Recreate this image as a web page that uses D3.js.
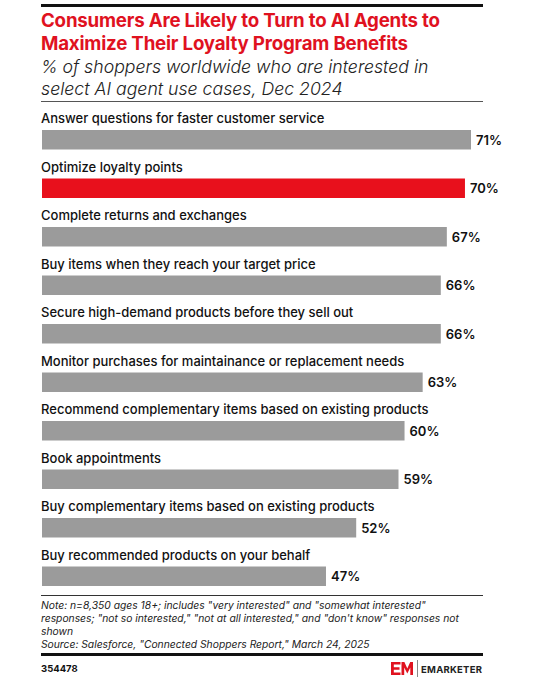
<!DOCTYPE html>
<html><head><meta charset="utf-8">
<script src="https://cdn.jsdelivr.net/npm/d3@7/dist/d3.min.js"></script>
<style>body{margin:0;background:#fff}svg{display:block}</style>
</head><body>
<svg id="c" width="544" height="680"></svg>
<script>
const categories = [
  "Answer questions for faster customer service",
  "Optimize loyalty points",
  "Complete returns and exchanges",
  "Buy items when they reach your target price",
  "Secure high-demand products before they sell out",
  "Monitor purchases for maintainance or replacement needs",
  "Recommend complementary items based on existing products",
  "Book appointments",
  "Buy complementary items based on existing products",
  "Buy recommended products on your behalf"
];
const values = [71, 70, 67, 66, 66, 63, 60, 59, 52, 47];
const highlight = ["Optimize loyalty points"];
const titleLines = ["Consumers Are Likely to Turn to AI Agents to", "Maximize Their Loyalty Program Benefits"];
const subtitleLines = ["% of shoppers worldwide who are interested in", "select AI agent use cases, Dec 2024"];
const noteLines = [
  "Note: n=8,350 ages 18+; includes \"very interested\" and \"somewhat interested\"",
  "responses; \"not so interested,\" \"not at all interested,\" and \"don't know\" responses not",
  "shown",
  "Source: Salesforce, \"Connected Shoppers Report,\" March 24, 2025"
];
const chartId = "354478";

const svg = d3.select("#c");
const F = "Inter, 'Noto Sans', sans-serif";
const L = 41, R = 483;

svg.append("rect").attr("x", L).attr("y", 4).attr("width", R - L).attr("height", 3).attr("fill", "#111");
svg.selectAll("text.t").data(titleLines).join("text")
  .attr("x", L).attr("y", (d, i) => 27 + i * 23)
  .attr("font-family", F).attr("font-weight", 700).attr("font-size", 18.7)
  .attr("fill", "#e0121f").attr("letter-spacing", -0.2).text(d => d);
svg.selectAll("text.s").data(subtitleLines).join("text")
  .attr("x", L).attr("y", (d, i) => 73 + i * 21.5)
  .attr("font-family", F).attr("font-style", "italic").attr("font-weight", 300).attr("font-size", 17.7)
  .attr("fill", "#222").text(d => d);
svg.append("rect").attr("x", L).attr("y", 101).attr("width", R - L).attr("height", 1).attr("fill", "#555");

const x = d3.scaleLinear().domain([0, 71]).range([L + 1, 471]);
const yb = d3.scaleBand().domain(categories).range([130, 130 + 48.5 * 10]);

const g = svg.append("g");
const rows = g.selectAll("g.row").data(categories.map((c, i) => ({c, v: values[i]}))).join("g");
rows.append("rect")
  .attr("x", x(0)).attr("y", d => yb(d.c)).attr("height", 19.5)
  .attr("width", d => x(d.v) - x(0))
  .attr("fill", d => highlight.includes(d.c) ? "#e8101c" : "#9b9b9b");
rows.append("text")
  .attr("x", L).attr("y", d => yb(d.c) - 7)
  .attr("font-family", F).attr("font-weight", 500).attr("font-size", 13).attr("fill", "#111")
  .text(d => d.c);
rows.append("text")
  .attr("x", d => x(d.v) + 5).attr("y", d => yb(d.c) + 14.5)
  .attr("font-family", F).attr("font-weight", 600).attr("font-size", 13).attr("fill", "#111")
  .text(d => d.v + "%");

svg.append("rect").attr("x", L).attr("y", 595).attr("width", R - L).attr("height", 1).attr("fill", "#333");
svg.selectAll("text.n").data(noteLines).join("text")
  .attr("x", L).attr("y", (d, i) => 608.5 + i * 13.3)
  .attr("font-family", F).attr("font-style", "italic").attr("font-weight", 400).attr("font-size", 10.3)
  .attr("fill", "#222").text(d => d);
svg.append("rect").attr("x", L).attr("y", 653).attr("width", R - L).attr("height", 3).attr("fill", "#111");
svg.append("text").attr("x", L).attr("y", 672).attr("font-family", F).attr("font-weight", 700)
  .attr("font-size", 9.5).attr("fill", "#111").text(chartId);

// logo
const lg = svg.append("g").attr("transform", "translate(391,662)");
lg.append("path").attr("d", "M0,0H9.5V2.6H2.8V5.2H8.5V7.8H2.8V10.4H9.5V13H0Z").attr("fill", "#e0121f");
lg.append("path").attr("d", "M10.5,13V0H13.4L16.3,6.5L19.2,0H22V13H19.3V5.4L16.3,11.6L13.2,5.4V13Z").attr("fill", "#e0121f");
lg.append("rect").attr("x", 26).attr("y", -2).attr("width", 1).attr("height", 17).attr("fill", "#888");
svg.append("text").attr("x", 421).attr("y", 672.5)
  .attr("font-family", F).attr("font-weight", 700).attr("font-size", 9.5)
  .attr("textLength", 61).attr("lengthAdjust", "spacing")
  .attr("fill", "#222").text("EMARKETER");
</script>
</body></html>
